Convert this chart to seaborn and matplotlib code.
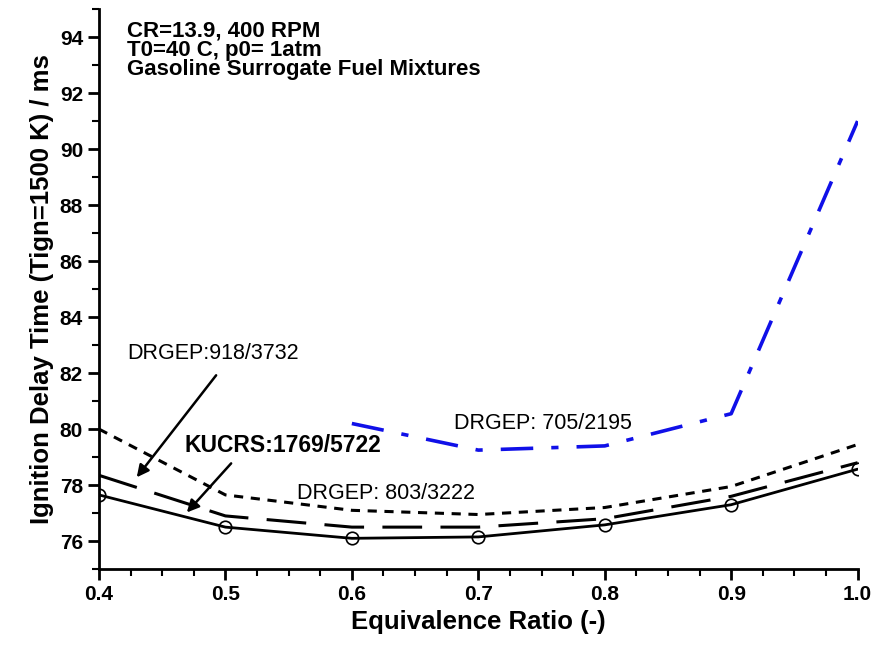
import matplotlib
matplotlib.use("Agg")
import matplotlib.pyplot as plt
import numpy as np
import pandas as pd
import seaborn as sns

# data
phi = [0.4, 0.5, 0.6, 0.7, 0.8, 0.9, 1.0]
kucrs = [77.65, 76.5, 76.1, 76.15, 76.58, 77.3, 78.57]
drgep_918 = [78.35, 76.9, 76.5, 76.5, 76.8, 77.6, 78.8]
drgep_803 = [80.0, 77.65, 77.1, 76.95, 77.2, 77.95, 79.45]
phi_705 = [0.6, 0.7, 0.8, 0.9, 1.0]
drgep_705 = [80.2, 79.25, 79.4, 80.55, 91.0]

sns.set_theme(style="ticks")
plt.rcParams["font.family"] = ["Liberation Sans", "DejaVu Sans"]
plt.rcParams["text.color"] = "black"
plt.rcParams["axes.labelcolor"] = "black"
plt.rcParams["xtick.color"] = "black"
plt.rcParams["ytick.color"] = "black"

fig = plt.figure(figsize=(8.76, 6.46), dpi=100)
ax = fig.add_axes([0.113, 0.119, 0.866, 0.867])

sns.lineplot(x=phi, y=drgep_803, ax=ax, color="black", lw=2.2)
ax.lines[-1].set_dashes([3, 2.5])
sns.lineplot(x=phi, y=drgep_918, ax=ax, color="black", lw=2.2)
ax.lines[-1].set_dashes([13, 6])
sns.lineplot(x=phi_705, y=drgep_705, ax=ax, color="#1010e8", lw=2.6)
ax.lines[-1].set_dashes([9, 5, 2, 5])
sns.lineplot(x=phi, y=kucrs, ax=ax, color="black", lw=2, marker="o",
             markersize=9, markerfacecolor="none", markeredgecolor="black",
             markeredgewidth=1.2)

ax.set_xlim(0.4, 1.0)
ax.set_ylim(75, 95)
ax.set_xticks([0.4, 0.5, 0.6, 0.7, 0.8, 0.9, 1.0])
ax.set_xticklabels(["0.4", "0.5", "0.6", "0.7", "0.8", "0.9", "1.0"])
ax.set_yticks(np.arange(76, 95, 2))
ax.set_xticks(np.arange(0.4, 1.0001, 0.025), minor=True)
ax.set_yticks(np.arange(75, 95.5, 1), minor=True)
ax.tick_params(axis="both", which="major", length=8, width=2, labelsize=15, direction="out")
ax.tick_params(axis="both", which="minor", length=5, width=1.5, direction="out")
for lab in ax.get_xticklabels() + ax.get_yticklabels():
    lab.set_fontweight("bold")
sns.despine(ax=ax)
for s in ["left", "bottom"]:
    ax.spines[s].set_linewidth(2)
    ax.spines[s].set_color("black")

ax.set_xlabel("Equivalence Ratio (-)", fontsize=18.5, fontweight="bold", labelpad=4)
ax.set_ylabel("Ignition Delay Time (Tign=1500 K) / ms", fontsize=18.5, fontweight="bold", labelpad=4)

ax.text(0.422, 94.6, "CR=13.9, 400 RPM\nT0=40 C, p0= 1atm\nGasoline Surrogate Fuel Mixtures",
        fontsize=16, fontweight="bold", va="top", linespacing=0.9)
ax.text(0.422, 82.5, "DRGEP:918/3732", fontsize=15.5)
ax.text(0.468, 79.2, "KUCRS:1769/5722", fontsize=16.5, fontweight="bold")
ax.text(0.681, 80.0, "DRGEP: 705/2195", fontsize=15.5)
ax.text(0.557, 77.5, "DRGEP: 803/3222", fontsize=15.5)

ax.annotate("", xy=(0.4285, 78.2), xytext=(0.494, 82.0),
            arrowprops=dict(arrowstyle="-|>", color="black", lw=1.8, mutation_scale=18))
ax.annotate("", xy=(0.468, 76.95), xytext=(0.506, 78.85),
            arrowprops=dict(arrowstyle="-|>", color="black", lw=1.8, mutation_scale=18))

fig.savefig("out.png", dpi=100)
